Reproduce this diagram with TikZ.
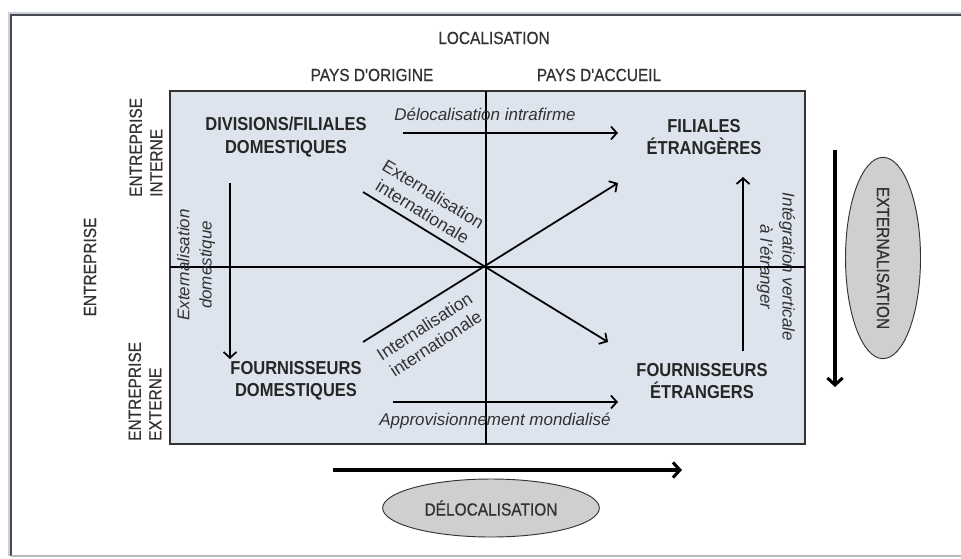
\documentclass[tikz,border=0pt]{standalone}
\usepackage{fontspec}
\setmainfont{Liberation Sans}
\newfontfamily\condfont{Liberation Sans}[FakeStretch=0.88]
\newfontfamily\capsfont{Liberation Sans}[FakeStretch=0.88,FakeBold=0.6]
\usetikzlibrary{arrows.meta,shapes.geometric}
\definecolor{boxfill}{RGB}{222,228,237}
\definecolor{ellfill}{RGB}{207,207,207}
\definecolor{txtgray}{RGB}{50,50,50}
\definecolor{framecol}{RGB}{70,72,78}
\definecolor{framehalo}{RGB}{200,206,218}
\begin{document}
\begin{tikzpicture}[x=0.03cm,y=-0.03cm,
  capslab/.style={font=\capsfont\fontsize{15}{17.5}\selectfont, text=txtgray, inner sep=0pt, align=left},
  boldlab/.style={font=\condfont\bfseries\fontsize{16}{19}\selectfont, text=black!85, align=center, inner sep=0pt},
  itlab/.style={font=\itshape\fontsize{14.5}{19}\selectfont, text=txtgray, align=center, inner sep=0pt},
  diaglab/.style={font=\fontsize{15}{17.5}\selectfont, text=txtgray, align=center, inner sep=0pt},
  arr/.style={line width=1.5pt, -{Straight Barb[length=5pt,width=11pt,line width=1.5pt]}},
  bigarr/.style={line width=2.6pt, -{Straight Barb[length=6pt,width=13pt]}},
  ln/.style={line width=1.5pt},
  ell/.style={ellipse, draw=black!80, line width=0.8pt, fill=ellfill, inner sep=0pt, text=txtgray, font=\capsfont\fontsize{15}{17.5}\selectfont}
]
\useasboundingbox (0,0) rectangle (961,558);
% frame
\draw[framehalo, line width=4pt] (965,14) -- (10,14) -- (10,556);
\draw[framecol, line width=2pt] (965,15) -- (11,15) -- (11,556);
\draw[gray!55, line width=1.2pt] (11,556) -- (965,556);
% inner box
\path[fill=boxfill, draw=black!80, line width=1.2pt] (170,91) rectangle (805,444);
\draw[ln] (170,267) -- (805,267);
\draw[ln] (486,91) -- (486,444);
% top labels
\node[capslab] (loc) at (494,38) {LOCALISATION};
\node[capslab] (orig) at (372,75) {PAYS D'ORIGINE};
\node[capslab] (acc) at (599,75) {PAYS D'ACCUEIL};
% left labels
\node[capslab, rotate=90] (ent) at (90,267) {ENTREPRISE};
\node[capslab, rotate=90, anchor=west] (entin) at (146,197) {ENTREPRISE\\INTERNE};
\node[capslab, rotate=90, anchor=west] (entex) at (145,441) {ENTREPRISE\\EXTERNE};
% quadrant labels
\node[boldlab] (div) at (286,137) {DIVISIONS/FILIALES\\DOMESTIQUES};
\node[boldlab] (fe) at (704,137) {FILIALES\\ÉTRANGÈRES};
\node[boldlab] (fd) at (296,381) {FOURNISSEURS\\DOMESTIQUES};
\node[boldlab] (fet) at (702,381) {FOURNISSEURS\\ÉTRANGERS};
% arrow labels
\node[itlab] (dint) at (485,114) {Délocalisation intrafirme};
\node[itlab] (appr) at (495,421) {Approvisionnement mondialisé};
\node[itlab, rotate=90] (extd) at (196,265) {Externalisation\\domestique};
\node[itlab, rotate=-90] (integ) at (776,267) {Intégration verticale\\à l'étranger};
\node[diaglab, rotate=-31.5] (exti) at (428,203) {Externalisation\\internationale};
\node[diaglab, rotate=33] (inti) at (430,335) {Internalisation\\internationale};
% arrow end points
\coordinate (a1s) at (403,133); \coordinate (a1e) at (618,133);
\coordinate (d1s) at (363,192); \coordinate (d1e) at (608,342);
\coordinate (d2s) at (363,342); \coordinate (d2e) at (618,183);
\coordinate (v1s) at (230,183); \coordinate (v1e) at (230,359);
\coordinate (v2s) at (743,351); \coordinate (v2e) at (743,177);
\coordinate (a2s) at (393,402); \coordinate (a2e) at (618,402);
\coordinate (b1s) at (333,470); \coordinate (b1e) at (682,470);
\coordinate (b2s) at (835,150); \coordinate (b2e) at (835,387);
\draw[arr] (a1s) -- (a1e);
\draw[arr] (d1s) -- (d1e);
\draw[arr] (d2s) -- (d2e);
\draw[arr] (v1s) -- (v1e);
\draw[arr] (v2s) -- (v2e);
\draw[arr] (a2s) -- (a2e);
\draw[bigarr] (b1s) -- (b1e);
\draw[bigarr] (b2s) -- (b2e);
% ellipses
\node[ell, minimum width=6.5cm, minimum height=1.74cm] (delo) at (491,508) {DÉLOCALISATION};
\node[ell, rotate=-90, minimum width=5.61cm, minimum height=2.25cm] (ext) at (883,258) {EXTERNALISATION};
\end{tikzpicture}
\end{document}
